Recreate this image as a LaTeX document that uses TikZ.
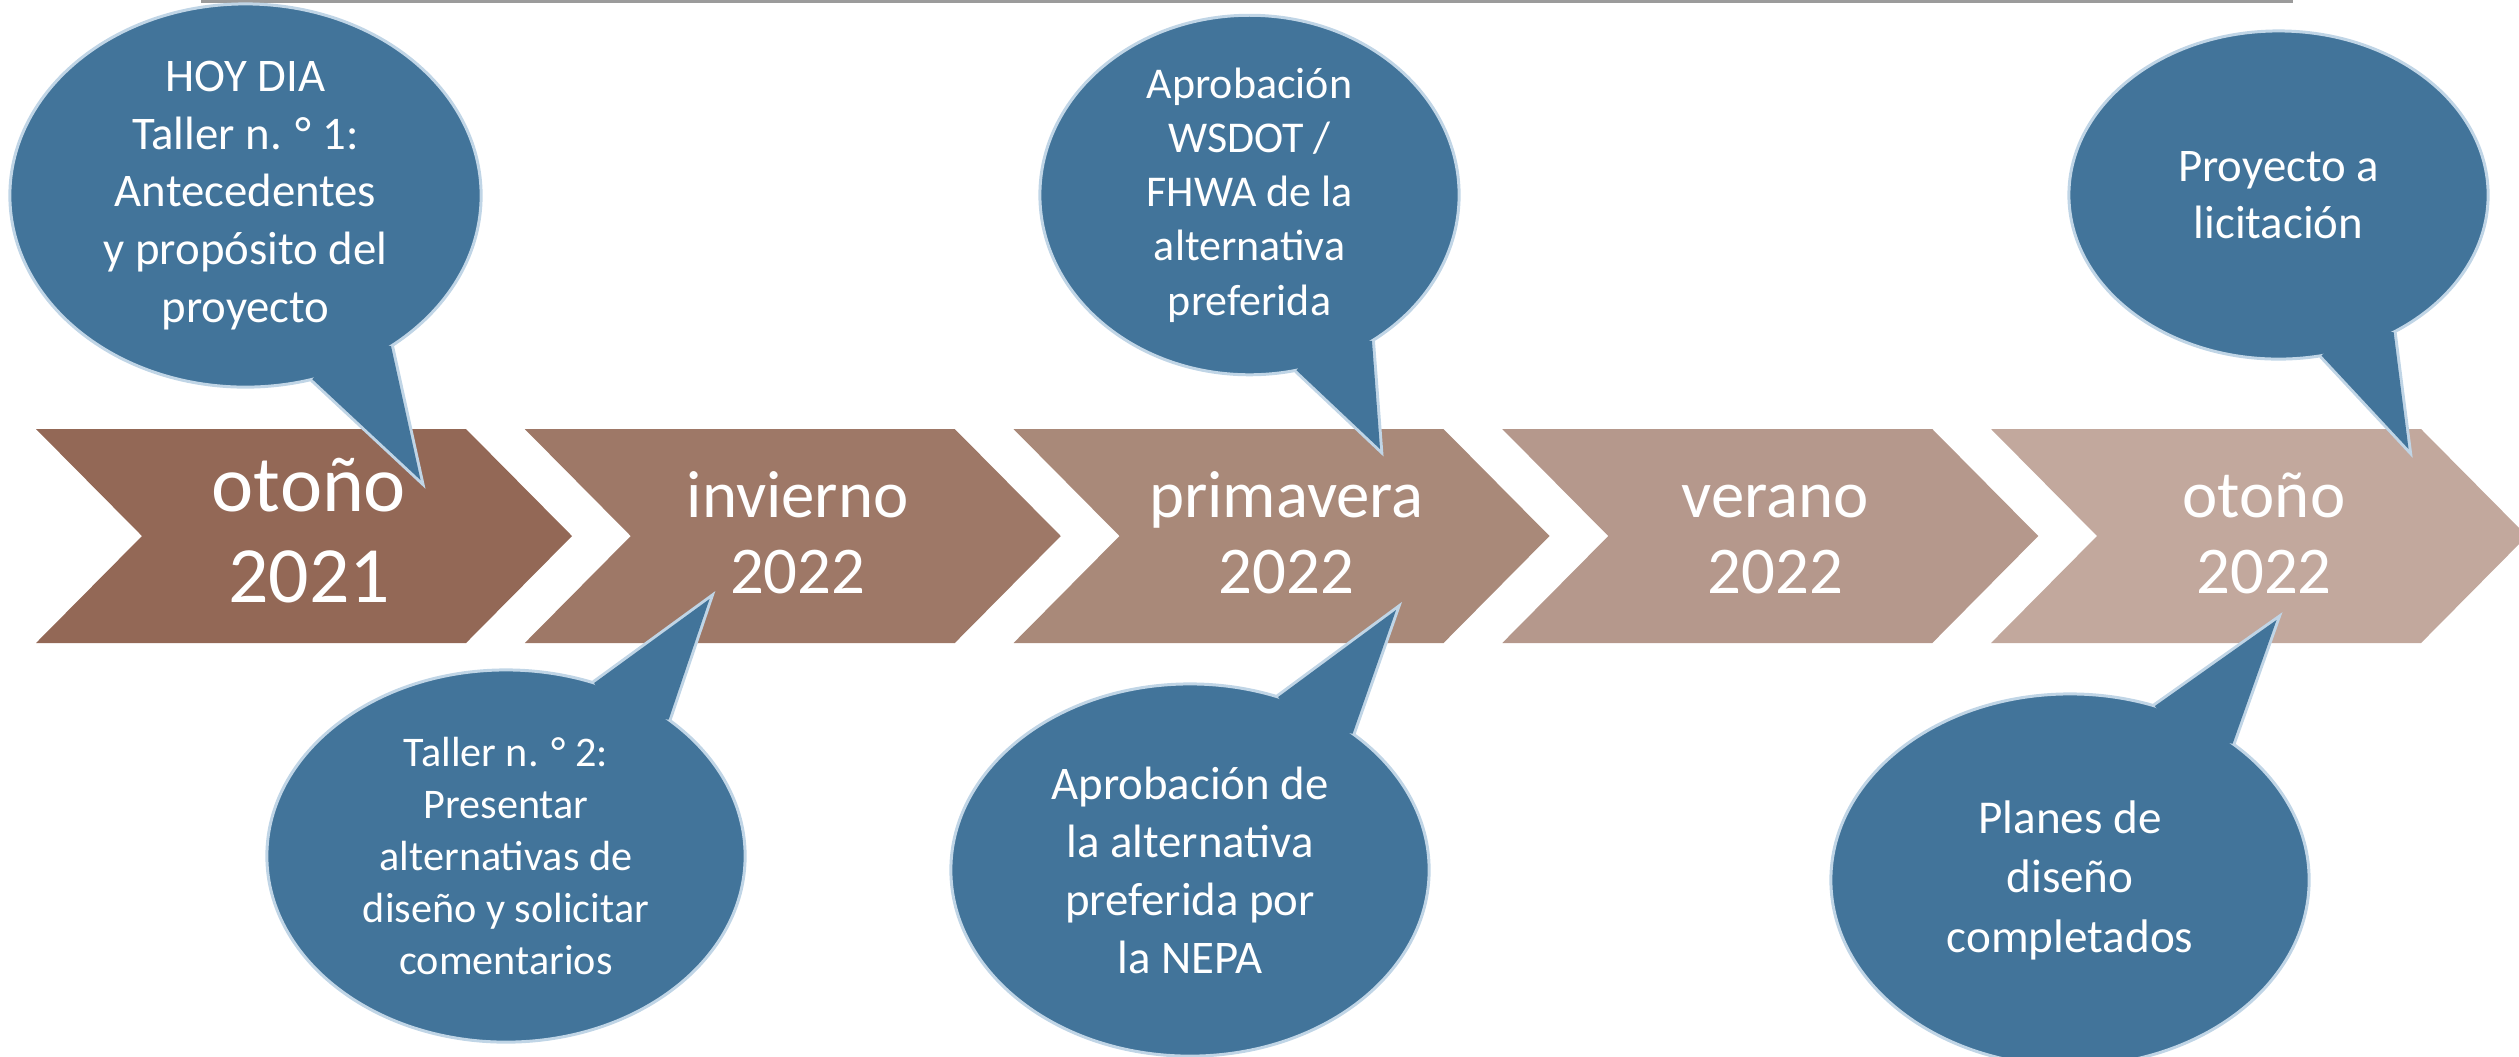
\documentclass[tikz,border=0pt]{standalone}
\usepackage{fontspec}
\setmainfont{Carlito}
\usepackage{tikz}
\usetikzlibrary{shapes.geometric}
\usetikzlibrary{calc}
\definecolor{chevA}{RGB}{147,104,86}
\definecolor{chevB}{RGB}{158,120,103}
\definecolor{chevC}{RGB}{169,137,121}
\definecolor{chevD}{RGB}{181,152,140}
\definecolor{chevE}{RGB}{194,168,157}
\definecolor{bubblefill}{RGB}{66,116,154}
\definecolor{bubbleline}{RGB}{192,213,230}
\definecolor{rulegray}{RGB}{155,155,155}
\tikzstyle{season} = [text=white, align=center, inner sep=0pt,
    font=\fontsize{19}{21.6}\selectfont]
\tikzstyle{bubble} = [ellipse, fill=bubblefill, draw=bubbleline, line width=0.85pt,
    inner sep=0pt, outer sep=0pt, text=white, align=center,
    font=\fontsize{13.3}{16.4}\selectfont]
\tikzset{bigbubble/.style={bubble, minimum width=4.78cm, minimum height=3.72cm}}
\tikzset{smallbubble/.style={bubble, minimum width=4.19cm, minimum height=3.28cm}}
\tikzset{tail/.style={draw=bubbleline, line width=1.7pt}}

\begin{document}
\begin{tikzpicture}[x=0.01cm, y=-0.01cm]
\useasboundingbox (0,0) rectangle (2519,1056);
\begin{scope}
    %top rule
    \draw[rulegray, line width=0.8pt] (201,1.5) -- (2293,1.5);
    %chevrons
    \fill[chevA] (36,429) -- (466,429) -- (572,536) -- (466,643) -- (36,643) -- (142,536) -- cycle;
    \fill[chevB] (524.75,429) -- (954.75,429) -- (1060.75,536) -- (954.75,643) -- (524.75,643) -- (630.75,536) -- cycle;
    \fill[chevC] (1013.5,429) -- (1443.5,429) -- (1549.5,536) -- (1443.5,643) -- (1013.5,643) -- (1119.5,536) -- cycle;
    \fill[chevD] (1502.25,429) -- (1932.25,429) -- (2038.25,536) -- (1932.25,643) -- (1502.25,643) -- (1608.25,536) -- cycle;
    \fill[chevE] (1991,429) -- (2421,429) -- (2527,536) -- (2421,643) -- (1991,643) -- (2097,536) -- cycle;
    %seasons
    \node[season, font=\fontsize{22.7}{25.9}\selectfont] (autumn21) at (309,531) {otoño\\2021};
    \node[season] (winter22) at (797.75,533) {invierno\\2022};
    \node[season] (spring22) at (1286.5,533) {primavera\\2022};
    \node[season] (summer22) at (1775.25,533) {\vphantom{ñ}verano\\2022};
    \node[season] (autumn22) at (2264,533) {otoño\\2022};
    %tips
    \coordinate (today tip) at (420.5,480);
    \coordinate (meeting tip) at (709.5,599);
    \coordinate (wsdot tip) at (1380,449);
    \coordinate (nepa tip) at (1396,610);
    \coordinate (bid tip) at (2408.5,449);
    \coordinate (plans tip) at (2276.5,620);
    %bubbles
    \node[bubble, minimum width=4.71cm, minimum height=3.83cm] (today) at (245.5,195.5)
        {HOY DIA\\Taller n. ° 1:\\Antecedentes\\y propósito del\\proyecto};
    \draw[tail] (today.-70.5) -- (today tip) -- (today.-46.2);
    \fill[bubblefill] (today.-70.5) -- (today tip) -- (today.-46.2) -- ($(today.center)!0.88!(today.-58)$) -- cycle;
    \node[bigbubble, font=\fontsize{12}{14.8}\selectfont] (meeting) at (506,856)
        {Taller n. ° 2:\\Presentar\\alternativas de\\diseño y solicitar\\comentarios};
    \draw[tail] (meeting.63.7) -- (meeting tip) -- (meeting.40.4);
    \fill[bubblefill] (meeting.63.7) -- (meeting tip) -- (meeting.40.4) -- ($(meeting.center)!0.88!(meeting.52)$) -- cycle;
    \node[smallbubble, font=\fontsize{12.5}{15.4}\selectfont] (wsdot) at (1249.5,195)
        {Aprobación\\WSDOT /\\FHWA de la\\alternativa\\preferida};
    \draw[tail] (wsdot.-75.5) -- (wsdot tip) -- (wsdot.-50.1);
    \fill[bubblefill] (wsdot.-75.5) -- (wsdot tip) -- (wsdot.-50.1) -- ($(wsdot.center)!0.88!(wsdot.-63)$) -- cycle;
    \node[bigbubble, font=\fontsize{13.3}{16.5}\selectfont] (nepa) at (1190,870)
        {Aprobación de\\la alternativa\\preferida por\\la NEPA};
    \draw[tail] (nepa.63.6) -- (nepa tip) -- (nepa.40.1);
    \fill[bubblefill] (nepa.63.6) -- (nepa tip) -- (nepa.40.1) -- ($(nepa.center)!0.88!(nepa.52)$) -- cycle;
    \node[smallbubble] (bid) at (2278.5,195) {Proyecto a\\licitación};
    \draw[tail] (bid.-75.9) -- (bid tip) -- (bid.-50.3);
    \fill[bubblefill] (bid.-75.9) -- (bid tip) -- (bid.-50.3) -- ($(bid.center)!0.88!(bid.-63)$) -- cycle;
    \node[bigbubble, font=\fontsize{13.4}{16.9}\selectfont] (plans) at (2070,880)
        {Planes de\\diseño\\completados};
    \draw[tail] (plans.64) -- (plans tip) -- (plans.40);
    \fill[bubblefill] (plans.64) -- (plans tip) -- (plans.40) -- ($(plans.center)!0.88!(plans.52)$) -- cycle;
\end{scope}
\end{tikzpicture}
\end{document}
